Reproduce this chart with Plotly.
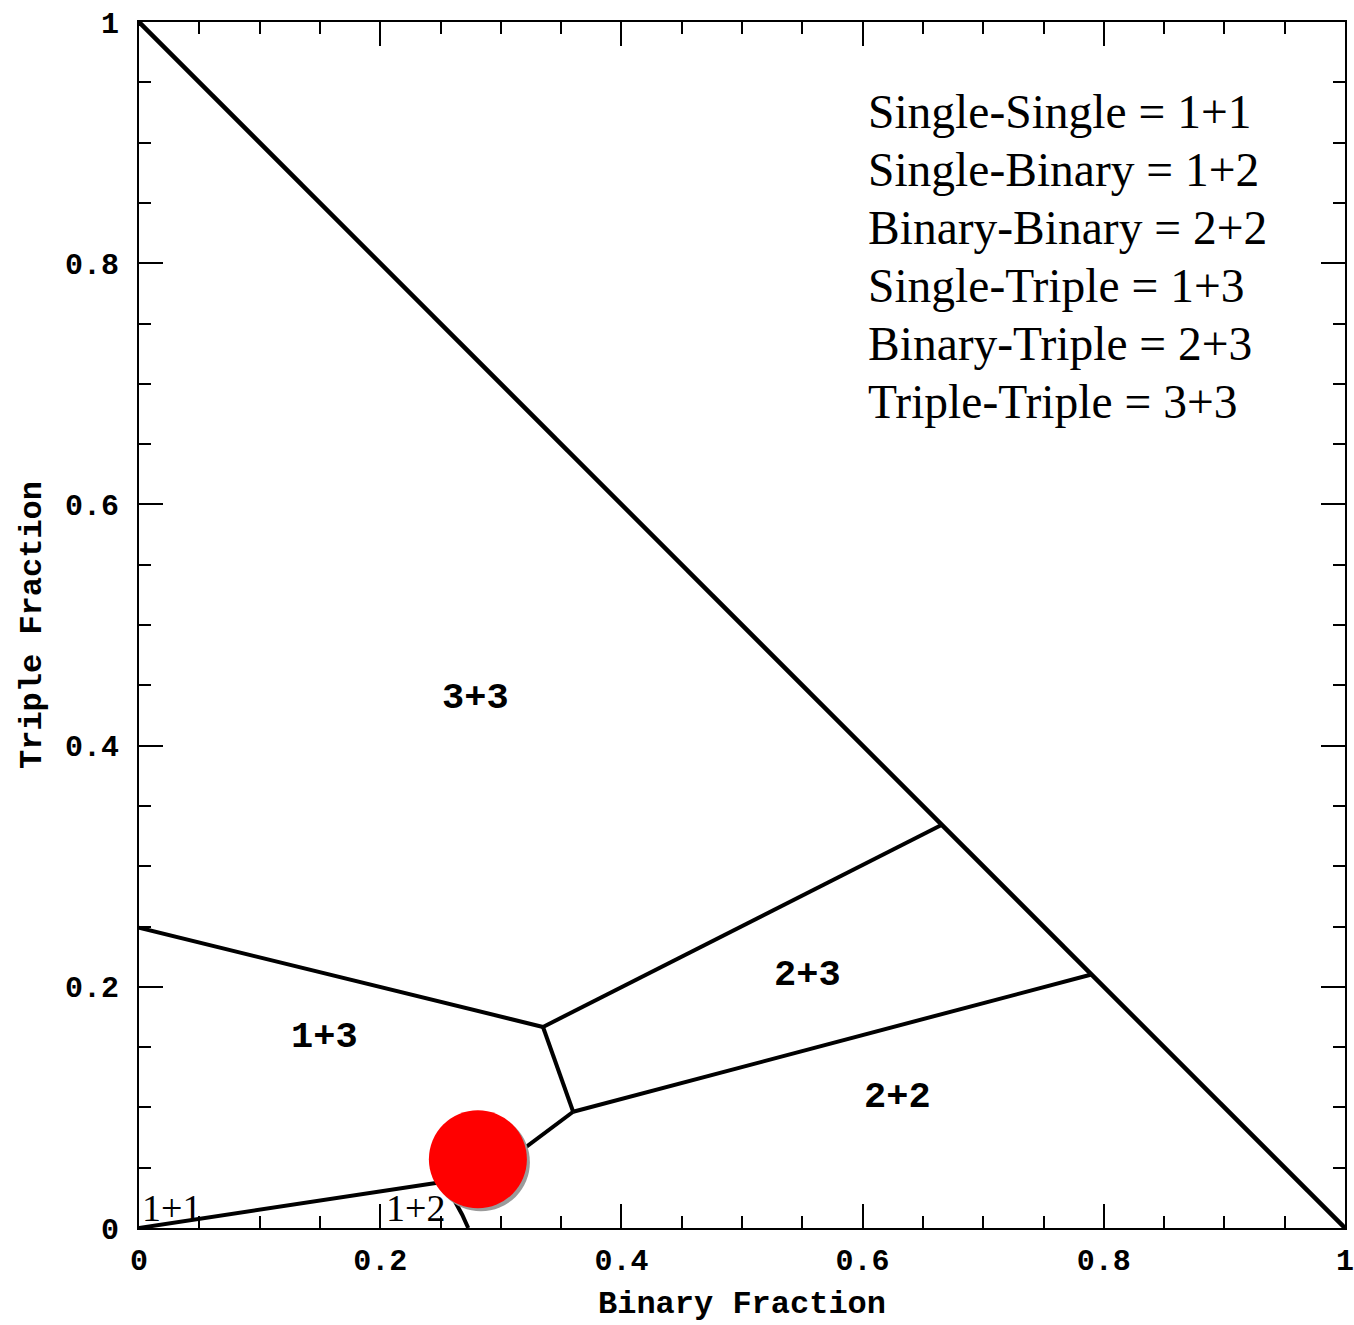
import plotly.graph_objects as go

# ---- data (fractions) ----
diag_x = [0.0, 1.0]
diag_y = [1.0, 0.0]

# boundaries between interaction regimes
b13_33_x = [0.0, 0.335]
b13_33_y = [0.249, 0.1667]
b33_23_x = [0.335, 0.665]
b33_23_y = [0.1667, 0.334]
b13_23_x = [0.335, 0.360]
b13_23_y = [0.1667, 0.0964]
b23_22_x = [0.360, 0.789]
b23_22_y = [0.0964, 0.210]
b13_12_x = [0.360, 0.290]
b13_12_y = [0.0964, 0.044]
b11_x = [0.0, 0.241, 0.290]
b11_y = [0.0, 0.036, 0.044]
b12_22_x = [0.290, 0.262, 0.268, 0.273]
b12_22_y = [0.044, 0.022, 0.011, 0.0]

region_labels = ["3+3", "2+3", "1+3", "2+2"]
region_x = [0.279, 0.554, 0.154, 0.629]
region_y = [0.4395, 0.210, 0.158, 0.109]

small_labels = ["1+1", "1+2"]
small_x = [0.027, 0.229]
small_y = [0.017, 0.017]

legend_lines = [
    "Single-Single = 1+1",
    "Single-Binary = 1+2",
    "Binary-Binary = 2+2",
    "Single-Triple = 1+3",
    "Binary-Triple = 2+3",
    "Triple-Triple = 3+3",
]
legend_x = 0.6025
legend_y = [0.925, 0.877, 0.829, 0.781, 0.733, 0.685]

point_x = [0.281]
point_y = [0.057]

tick_vals = [0, 0.2, 0.4, 0.6, 0.8, 1]
tick_text = ["0", "0.2", "0.4", "0.6", "0.8", "1"]

# ---- figure ----
fig = go.Figure()

fig.add_trace(go.Scatter(x=diag_x, y=diag_y, mode="lines",
                         line=dict(color="black", width=4.5), hoverinfo="skip"))
for bx, by in [(b13_33_x, b13_33_y), (b33_23_x, b33_23_y), (b13_23_x, b13_23_y),
               (b23_22_x, b23_22_y), (b13_12_x, b13_12_y), (b11_x, b11_y),
               (b12_22_x, b12_22_y)]:
    fig.add_trace(go.Scatter(x=bx, y=by, mode="lines",
                             line=dict(color="black", width=4), hoverinfo="skip"))

# shadow + red dot
shadow_dx = 0.0025
fig.add_trace(go.Scatter(x=[v + shadow_dx for v in point_x],
                         y=[v - shadow_dx for v in point_y], mode="markers",
                         marker=dict(color="#9a9a9a", size=98, line=dict(width=0)),
                         hoverinfo="skip"))
fig.add_trace(go.Scatter(x=point_x, y=point_y, mode="markers",
                         marker=dict(color="#ff0000", size=98, line=dict(width=0)),
                         hoverinfo="skip"))

mono = "Liberation Mono"
serif = "Liberation Serif"

for t, x, y in zip(region_labels, region_x, region_y):
    fig.add_annotation(x=x, y=y, text="<b>" + t + "</b>", showarrow=False,
                       font=dict(family=mono, size=37, color="black"),
                       xanchor="center", yanchor="middle")
for t, x, y in zip(small_labels, small_x, small_y):
    fig.add_annotation(x=x, y=y, text=t, showarrow=False,
                       font=dict(family=serif, size=38, color="black"),
                       xanchor="center", yanchor="middle")
for t, y in zip(legend_lines, legend_y):
    fig.add_annotation(x=legend_x, y=y, text=t, showarrow=False,
                       font=dict(family=serif, size=47.5, color="black"),
                       xanchor="left", yanchor="middle")

axis_common = dict(
    range=[0, 1],
    tickvals=tick_vals,
    ticktext=["<b>" + t + "</b>" for t in tick_text],
    ticks="inside",
    ticklen=24,
    tickwidth=2,
    tickcolor="black",
    showline=True,
    linecolor="black",
    linewidth=2,
    mirror="allticks",
    showgrid=False,
    zeroline=False,
    automargin=False,
    ticklabeloverflow="allow",
    tickangle=0,
    tickfont=dict(family=mono, size=30, color="black"),
    minor=dict(dtick=0.05, tick0=0, ticks="inside", ticklen=12, tickwidth=2,
               tickcolor="black", showgrid=False),
)

fig.update_layout(
    width=1354, height=1325,
    margin=dict(l=139, r=9, t=22, b=97),
    plot_bgcolor="white", paper_bgcolor="white",
    showlegend=False,
    xaxis=dict(axis_common, ticklabelstandoff=4,
               title=dict(text="<b>Binary Fraction</b>",
                          font=dict(family=mono, size=32, color="black"),
                          standoff=13)),
    yaxis=dict(axis_common, ticklabelstandoff=12,
               title=dict(text="<b>Triple Fraction</b>",
                          font=dict(family=mono, size=32, color="black"),
                          standoff=14)),
)

fig.write_html("out.html")
